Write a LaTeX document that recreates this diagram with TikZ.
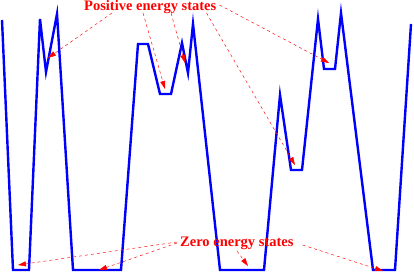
\documentclass[tikz,border=0pt]{standalone}
\usepackage{fontspec}
\setmainfont{Liberation Serif}
\usetikzlibrary{arrows.meta}

\tikzset{
  lbl/.style={inner sep=0pt,anchor=base west,text=red,font=\fontsize{14.5}{16}\selectfont\bfseries},
  ptr/.style={draw=red,line width=0.45pt,dash pattern=on 3pt off 3pt,-{Triangle[length=8pt,width=5pt]}},
  wave/.style={draw=blue,line width=2.4pt}
}

\begin{document}
\begin{tikzpicture}[x=1pt,y=-1pt]
\useasboundingbox (0,0) rectangle (414,273);

% potential curve
\draw[wave] (2,20) -- (13,270) -- (29,270) -- (40,19) -- (46,72) -- (57,14)
  -- (73,270) -- (121,270) -- (138,44) -- (148,44) -- (160,94) -- (171,94)
  -- (182,43) -- (188,73) -- (193,24) -- (220,270) -- (264,270) -- (280,95)
  -- (291,170) -- (302,170) -- (318,19) -- (324,69) -- (335,69) -- (341,13)
  -- (373,270) -- (395,270) -- (411,24);

\node[lbl] (pos) at (84,10) {Positive energy states};
\node[lbl] (zero) at (180,246) {Zero energy states};

% arrow ends
\coordinate (p1) at (48,58);
\coordinate (p2) at (165,89);
\coordinate (p3) at (185,63);
\coordinate (p4) at (329,63);
\coordinate (p5) at (295,165);
\coordinate (z1) at (18,265);
\coordinate (z2) at (99,270);
\coordinate (z3) at (248,266);
\coordinate (z4) at (383,271);

\draw[ptr] ([shift={(28,3)}]pos.base west) -- (p1);
\draw[ptr] ([shift={(59,3)}]pos.base west) -- (p2);
\draw[ptr] ([shift={(87,3)}]pos.base west) -- (p3);
\draw[ptr] ([shift={(3,-5)}]pos.base east) -- (p4);
\draw[ptr] ([shift={(-10,3)}]pos.base east) -- (p5);

\draw[ptr] ([shift={(-3,-4)}]zero.base west) -- (z1);
\draw[ptr] ([shift={(-3,-3)}]zero.base west) -- (z2);
\draw[ptr] ([shift={(57,5)}]zero.base west) -- (z3);
\draw[ptr] ([shift={(9,-1)}]zero.base east) -- (z4);

\end{tikzpicture}
\end{document}
